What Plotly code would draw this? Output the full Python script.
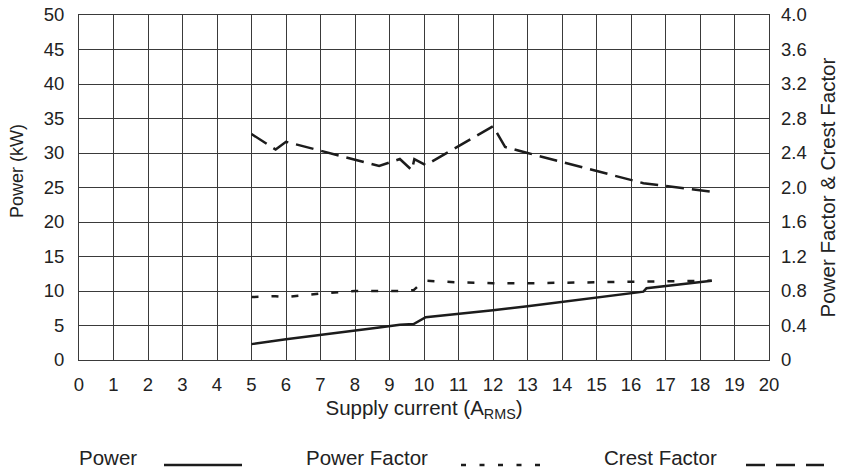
import plotly.graph_objects as go

# ---- data ----
power_current = [5.0, 5.7, 6.0, 8.7, 9.3, 9.7, 10.05, 12.0, 12.35, 13.0, 16.36, 16.45, 18.34]
power_kw = [2.3, 2.8, 3.0, 4.7, 5.1, 5.2, 6.2, 7.2, 7.4, 7.8, 9.9, 10.4, 11.5]

pf_current = [5.0, 5.7, 6.0, 7.0, 8.0, 9.3, 9.7, 10.0, 11.0, 12.0, 13.0, 15.0, 16.4, 18.34]
power_factor = [0.73, 0.74, 0.73, 0.77, 0.80, 0.80, 0.81, 0.92, 0.90, 0.89, 0.89, 0.90, 0.91, 0.92]

cf_current = [5.0, 5.7, 6.0, 8.7, 9.3, 9.65, 9.72, 10.05, 12.0, 12.35, 13.0, 16.36, 18.34]
crest_factor = [2.62, 2.44, 2.53, 2.25, 2.33, 2.20, 2.33, 2.26, 2.71, 2.47, 2.40, 2.05, 1.95]

x_ticks = list(range(0, 21))
y_left_ticks = [0, 5, 10, 15, 20, 25, 30, 35, 40, 45, 50]
y_right_ticks = [0, 0.4, 0.8, 1.2, 1.6, 2.0, 2.4, 2.8, 3.2, 3.6, 4.0]
y_right_labels = ["0", "0.4", "0.8", "1.2", "1.6", "2.0", "2.4", "2.8", "3.2", "3.6", "4.0"]
legend_names = ["Power", "Power Factor", "Crest Factor"]

# ---- styling ----
LINE = "#1c1c1c"
GRID = "#3a3a3a"
TEXT = "#222222"
FONT = "Liberation Sans, Arial, sans-serif"
TICK_SIZE = 18.5
TITLE_SIZE = 20.5

# plot area in pixels
PL, PR, PT, PB = 79, 769, 15, 360
PW, PH = PR - PL, PB - PT

fig = go.Figure()
fig.add_trace(go.Scatter(x=power_current, y=power_kw, mode="lines", name=legend_names[0],
                         line=dict(color=LINE, width=2.5), yaxis="y", showlegend=False))
fig.add_trace(go.Scatter(x=pf_current, y=power_factor, mode="lines", name=legend_names[1],
                         line=dict(color=LINE, width=2.5, dash="7px,13px"), yaxis="y2", showlegend=False))
fig.add_trace(go.Scatter(x=cf_current, y=crest_factor, mode="lines", name=legend_names[2],
                         line=dict(color=LINE, width=2.5, dash="18px,8px"), yaxis="y2", showlegend=False))

fig.update_layout(
    width=849, height=475,
    margin=dict(l=PL, r=849 - PR, t=PT, b=475 - PB, autoexpand=False),
    paper_bgcolor="white", plot_bgcolor="white",
    font=dict(family=FONT, size=TICK_SIZE, color=TEXT),
    xaxis=dict(range=[0, 20], tickvals=x_ticks, showgrid=True, gridcolor=GRID, gridwidth=1,
               showline=True, linecolor=GRID, linewidth=1, mirror=True, zeroline=False,
               ticks="", ticklabelstandoff=8, automargin=False,
               tickfont=dict(size=TICK_SIZE),
               title=dict(text="Supply current (A<sub>RMS</sub>)", standoff=6,
                          font=dict(size=TITLE_SIZE))),
    yaxis=dict(range=[0, 50], tickvals=y_left_ticks, showgrid=True, gridcolor=GRID, gridwidth=1,
               showline=True, linecolor=GRID, linewidth=1, mirror=True, zeroline=False,
               ticks="", ticklabelstandoff=10, automargin=False,
               tickfont=dict(size=TICK_SIZE)),
    yaxis2=dict(range=[0, 4], tickvals=y_right_ticks, ticktext=y_right_labels, overlaying="y",
                side="right", showgrid=False, zeroline=False, ticks="", ticklabelstandoff=11,
                automargin=False, tickfont=dict(size=TICK_SIZE),
                title=dict(text="Power Factor &amp; Crest Factor", standoff=14,
                           font=dict(size=TITLE_SIZE))),
)

# left axis title (placed slightly above the plot centre, as in the reference)
fig.add_annotation(xref="paper", yref="paper", x=(17 - PL) / PW, y=(PB - 171) / PH,
                   text="Power (kW)", textangle=-90, showarrow=False,
                   xanchor="center", yanchor="middle",
                   font=dict(size=18, color=TEXT, family=FONT))

# ---- manual legend (text left, line sample right) ----
text_x = [77, 304, 602]
sample_x = [(164, 242), (461, 540), (746, 824)]
dashes = ["solid", "5px,13.5px", "19px,11px"]
for name, tx, (sx0, sx1), d in zip(legend_names, text_x, sample_x, dashes):
    fig.add_annotation(xref="paper", yref="paper", x=(tx - PL) / PW, y=(PB - 457) / PH,
                       text=name, showarrow=False, xanchor="left", yanchor="middle",
                       font=dict(size=TITLE_SIZE, color=TEXT, family=FONT))
    fig.add_shape(type="line", xref="paper", yref="paper",
                  x0=(sx0 - PL) / PW, x1=(sx1 - PL) / PW,
                  y0=(PB - 465) / PH, y1=(PB - 465) / PH,
                  line=dict(color=LINE, width=2.5, dash=d))

fig.write_html("out.html", config={"displayModeBar": False},
               post_script="document.body.style.margin='0px';document.body.style.overflow='hidden';")
